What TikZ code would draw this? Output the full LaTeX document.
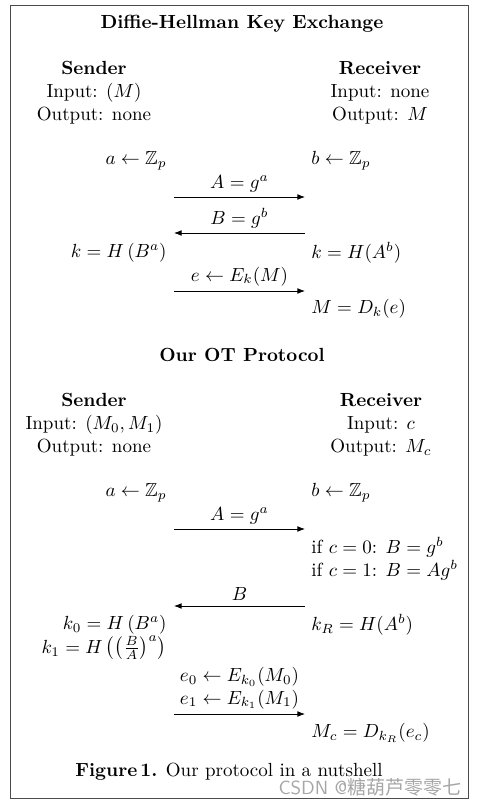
\documentclass[tikz,border=0pt]{standalone}
\usepackage{amsmath,amssymb}
\usepackage{fontspec}
\newfontfamily\cjk{Noto Sans CJK SC}
\usetikzlibrary{arrows.meta}

\begin{document}
\begin{tikzpicture}[x=0.526pt,y=-0.526pt,
   lft/.style={anchor=east,inner sep=0pt},
   rgt/.style={anchor=west,inner sep=0pt,align=left},
   party/.style={align=center,inner sep=0pt},
   hd/.style={font=\bfseries,inner sep=0pt},
   msg/.style={-{Latex[length=4pt,width=3pt]},thin},
   lbl/.style={above,inner sep=2.5pt,align=center}]
  \useasboundingbox (0,0) rectangle (481,806);
  \draw[black!70] (10,5) rectangle (468,798);
  % Diffie-Hellman
  \node[hd] (dhtitle) at (242,24) {Diffie-Hellman Key Exchange};
  \node[party] (dhsend) at (94,93) {\textbf{Sender}\\Input: $(M)$\\Output: none};
  \node[party] (dhrecv) at (380,93) {\textbf{Receiver}\\Input: none\\Output: $M$};
  \node[lft] (dha) at (167,161) {$a \leftarrow \mathbb{Z}_p$};
  \node[rgt] (dhb) at (311,161) {$b \leftarrow \mathbb{Z}_p$};
  \coordinate (dhs1) at (174,197); \coordinate (dhr1) at (305,197);
  \draw[msg] (dhs1) -- node[lbl] (dhA) {$A = g^a$} (dhr1);
  \coordinate (dhs2) at (174,233); \coordinate (dhr2) at (305,233);
  \draw[msg] (dhr2) -- node[lbl] (dhB) {$B = g^b$} (dhs2);
  \node[lft] (dhks) at (167,253) {$k = H\left(B^a\right)$};
  \node[rgt] (dhkr) at (311,253) {$k = H(A^b)$};
  \coordinate (dhs3) at (174,291); \coordinate (dhr3) at (305,291);
  \draw[msg] (dhs3) -- node[lbl] (dhe) {$e \leftarrow E_k(M)$} (dhr3);
  \node[rgt] (dhM) at (311,309) {$M = D_k(e)$};
  % OT protocol
  \node[hd] (ottitle) at (242,355) {Our OT Protocol};
  \node[party] (otsend) at (94,425) {\textbf{Sender}\\Input: $(M_0, M_1)$\\Output: none};
  \node[party] (otrecv) at (381,425) {\textbf{Receiver}\\Input: $c$\\Output: $M_c$};
  \node[lft] (ota) at (167,493) {$a \leftarrow \mathbb{Z}_p$};
  \node[rgt] (otb) at (311,493) {$b \leftarrow \mathbb{Z}_p$};
  \coordinate (ots1) at (174,529); \coordinate (otr1) at (305,529);
  \draw[msg] (ots1) -- node[lbl] (otA) {$A = g^a$} (otr1);
  \node[rgt] (otif) at (311,559) {if $c = 0$: $B = g^b$\\if $c = 1$: $B = Ag^b$};
  \coordinate (ots2) at (174,606); \coordinate (otr2) at (305,606);
  \draw[msg] (otr2) -- node[lbl] (otB) {$B$} (ots2);
  \node[lft] (otk0) at (167,625) {$k_0 = H\left(B^a\right)$};
  \node[lft] (otk1) at (167,648) {$k_1 = H\,\bigl(\bigl(\frac{B}{A}\bigr)^a\bigr)$};
  \node[rgt] (otkR) at (311,625) {$k_R = H(A^b)$};
  \coordinate (ots3) at (174,714); \coordinate (otr3) at (305,714);
  \draw[msg] (ots3) -- node[lbl] (ote) {$e_0 \leftarrow E_{k_0}(M_0)$\\$e_1 \leftarrow E_{k_1}(M_1)$} (otr3);
  \node[rgt] (otM) at (311,733) {$M_c = D_{k_R}(e_c)$};
  % caption
  \node[inner sep=0pt] (caption) at (229,772) {\textbf{Figure\,1.} Our protocol in a nutshell};
  \node[inner sep=0pt,text=black!35,font=\sffamily] (mark) at (370,787) {CSDN @{\cjk 糖葫芦零零七}};
\end{tikzpicture}
\end{document}
